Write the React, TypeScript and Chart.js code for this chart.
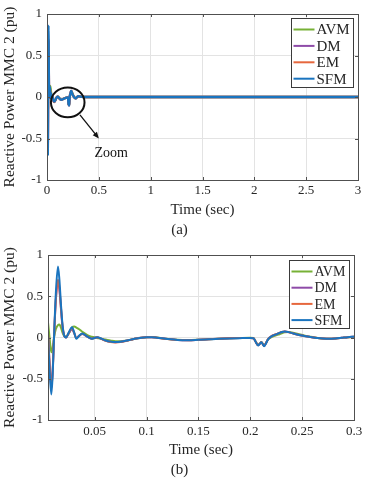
import React, { useEffect, useRef } from "react";
import { Chart, registerables } from "chart.js";

Chart.register(...registerables);

const FONT = "'Liberation Serif', 'Times New Roman', serif";
const TEXT = "#262626";
const BORDER = "#505050";
const GRID = "#e3e3e3";

const SERIES_NAMES = ["AVM", "DM", "EM", "SFM"];
const SERIES_COLORS = ["#77b136", "#8e4ba8", "#e6673d", "#1a74bf"];

const Y_TICKS = [-1, -0.5, 0, 0.5, 1];
const X_TICKS_A = [0, 0.5, 1, 1.5, 2, 2.5, 3];
const X_TICKS_B = [0.05, 0.1, 0.15, 0.2, 0.25, 0.3];

// time (sec)
const TIME = [
  0.005, 0.0065, 0.0082, 0.0095, 0.0108, 0.0125, 0.0146, 0.016, 0.0175, 0.019,
  0.0205, 0.0224, 0.025, 0.0281, 0.0303, 0.0323, 0.035, 0.038, 0.043, 0.047,
  0.0525, 0.056, 0.0606, 0.065, 0.07, 0.075, 0.08, 0.085, 0.09, 0.095,
  0.1, 0.105, 0.11, 0.12, 0.13, 0.14, 0.15, 0.16, 0.17, 0.18,
  0.19, 0.2, 0.203, 0.2055, 0.2075, 0.209, 0.2108, 0.212, 0.2133, 0.215,
  0.217, 0.22, 0.2235, 0.227, 0.2305, 0.2333, 0.237, 0.241, 0.246, 0.252,
  0.258, 0.264, 0.27, 0.276, 0.282, 0.288, 0.294, 0.3,
];

const AVM = [
  0.185, 0.0, -0.18, -0.12, 0.0, 0.1, 0.15, 0.157, 0.12, 0.06,
  0.02, 0.01, 0.05, 0.12, 0.133, 0.12, 0.1, 0.07, 0.028, 0.01,
  -0.005, -0.015, -0.025, -0.035, -0.045, -0.045, -0.038, -0.025, -0.012, -0.002,
  0.004, 0.006, 0.0, -0.016, -0.028, -0.031, -0.027, -0.02, -0.014, -0.009,
  -0.006, -0.004, -0.006, -0.055, -0.09, -0.076, -0.055, -0.076, -0.098, -0.07,
  -0.025, 0.0, 0.02, 0.035, 0.052, 0.062, 0.066, 0.058, 0.042, 0.024,
  0.008, -0.003, -0.012, -0.015, -0.012, -0.005, 0.003, 0.008,
];

const DM = [
  0.06, -0.3, -0.6, -0.4, 0.0, 0.44, 0.68, 0.58, 0.35, 0.13,
  0.025, 0.0, 0.05, 0.1, 0.05, -0.01, 0.02, 0.042, 0.01, -0.012,
  0.002, -0.014, -0.038, -0.052, -0.057, -0.052, -0.04, -0.026, -0.012, -0.003,
  0.004, 0.004, -0.002, -0.017, -0.029, -0.032, -0.027, -0.021, -0.015, -0.01,
  -0.007, -0.005, -0.008, -0.058, -0.095, -0.079, -0.057, -0.079, -0.102, -0.073,
  -0.023, 0.011, 0.033, 0.049, 0.066, 0.072, 0.065, 0.05, 0.033, 0.018,
  0.005, -0.005, -0.013, -0.015, -0.011, -0.004, 0.004, 0.01,
];

const EM = [
  0.04, -0.32, -0.62, -0.42, 0.0, 0.45, 0.7, 0.6, 0.36, 0.14,
  0.03, 0.0, 0.055, 0.11, 0.055, -0.01, 0.02, 0.045, 0.01, -0.015,
  0.002, -0.015, -0.04, -0.055, -0.06, -0.055, -0.042, -0.027, -0.013, -0.004,
  0.002, 0.003, -0.003, -0.019, -0.031, -0.033, -0.028, -0.021, -0.015, -0.01,
  -0.007, -0.005, -0.008, -0.058, -0.094, -0.078, -0.057, -0.078, -0.1, -0.072,
  -0.022, 0.012, 0.034, 0.05, 0.067, 0.072, 0.064, 0.05, 0.034, 0.019,
  0.006, -0.004, -0.012, -0.015, -0.011, -0.004, 0.004, 0.009,
];

const SFM = [
  0.02, -0.38, -0.69, -0.45, 0.0, 0.52, 0.86, 0.7, 0.4, 0.15,
  0.03, 0.0, 0.06, 0.125, 0.06, -0.015, 0.02, 0.05, 0.01, -0.015,
  0.004, -0.012, -0.036, -0.05, -0.056, -0.052, -0.04, -0.026, -0.012, -0.003,
  0.003, 0.004, -0.002, -0.018, -0.03, -0.033, -0.028, -0.022, -0.016, -0.011,
  -0.008, -0.006, -0.008, -0.06, -0.097, -0.08, -0.058, -0.08, -0.105, -0.075,
  -0.025, 0.01, 0.032, 0.048, 0.066, 0.073, 0.065, 0.05, 0.033, 0.018,
  0.005, -0.005, -0.013, -0.016, -0.012, -0.004, 0.004, 0.01,
];

// steady-state tail used by the full 0-3 s view
const TAIL_TIME = [0.35, 3];
const TAIL_VALUE = [0, 0];

const SERIES_VALUES = [AVM, DM, EM, SFM];

// annotation of panel (a), in data units
const ZOOM_ELLIPSE = { x: 0.2, y: -0.065, rx: 0.162, ry: 0.18 };
const ZOOM_ARROW = { x1: 0.318, y1: -0.215, x2: 0.5, y2: -0.5 };
const ZOOM_LABEL = { text: "Zoom", x: 0.62, y: -0.675 };

const framePlugin = {
  id: "mmcFrame",
  afterDatasetsDraw(chart: any) {
    const { ctx, chartArea: a, scales } = chart;
    ctx.save();
    ctx.strokeStyle = BORDER;
    ctx.lineWidth = 1;
    ctx.beginPath();
    const tl = 3;
    scales.x.ticks.forEach((t: any) => {
      const px = Math.round(scales.x.getPixelForValue(t.value)) + 0.5;
      ctx.moveTo(px, a.bottom);
      ctx.lineTo(px, a.bottom - tl);
      ctx.moveTo(px, a.top);
      ctx.lineTo(px, a.top + tl);
    });
    scales.y.ticks.forEach((t: any) => {
      const py = Math.round(scales.y.getPixelForValue(t.value)) + 0.5;
      ctx.moveTo(a.left, py);
      ctx.lineTo(a.left + tl, py);
      ctx.moveTo(a.right, py);
      ctx.lineTo(a.right - tl, py);
    });
    ctx.stroke();
    ctx.strokeRect(
      Math.round(a.left) + 0.5,
      Math.round(a.top) + 0.5,
      Math.round(a.right - a.left),
      Math.round(a.bottom - a.top)
    );
    ctx.restore();
  },
};

const legendPlugin = {
  id: "mmcLegend",
  afterDraw(chart: any, _args: any, opts: any) {
    const { ctx, chartArea: a } = chart;
    const x0 = Math.round(a.right - opts.rightGap - opts.width) + 0.5;
    const y0 = Math.round(a.top + opts.topGap) + 0.5;
    ctx.save();
    ctx.fillStyle = "#ffffff";
    ctx.fillRect(x0, y0, opts.width, opts.height);
    ctx.strokeStyle = "#3a3a3a";
    ctx.lineWidth = 1;
    ctx.strokeRect(x0, y0, opts.width, opts.height);
    ctx.font = `${opts.fontSize}px ${FONT}`;
    ctx.textBaseline = "middle";
    ctx.textAlign = "left";
    SERIES_NAMES.forEach((name, i) => {
      const y = y0 + opts.rowStart + i * opts.rowStep;
      ctx.strokeStyle = SERIES_COLORS[i];
      ctx.lineWidth = 2;
      ctx.beginPath();
      ctx.moveTo(x0 + 2, y);
      ctx.lineTo(x0 + 2 + opts.lineLen, y);
      ctx.stroke();
      ctx.fillStyle = TEXT;
      ctx.fillText(name, x0 + opts.lineLen + 4, y + 1);
    });
    ctx.restore();
  },
};

const captionPlugin = {
  id: "mmcCaption",
  afterDraw(chart: any, _args: any, opts: any) {
    const { ctx } = chart;
    ctx.save();
    ctx.font = `${opts.fontSize}px ${FONT}`;
    ctx.fillStyle = TEXT;
    ctx.textAlign = "center";
    ctx.textBaseline = "middle";
    ctx.fillText(opts.text, chart.width / 2 + opts.dx, opts.y);
    ctx.restore();
  },
};

const zoomPlugin = {
  id: "mmcZoom",
  afterDatasetsDraw(chart: any) {
    const { ctx, scales } = chart;
    const xs = scales.x;
    const ys = scales.y;
    const cx = xs.getPixelForValue(ZOOM_ELLIPSE.x);
    const cy = ys.getPixelForValue(ZOOM_ELLIPSE.y);
    const rx = Math.abs(xs.getPixelForValue(ZOOM_ELLIPSE.x + ZOOM_ELLIPSE.rx) - cx);
    const ry = Math.abs(ys.getPixelForValue(ZOOM_ELLIPSE.y + ZOOM_ELLIPSE.ry) - cy);
    ctx.save();
    ctx.strokeStyle = "#111111";
    ctx.lineWidth = 2;
    ctx.beginPath();
    ctx.ellipse(cx, cy, rx, ry, 0, 0, Math.PI * 2);
    ctx.stroke();
    const x1 = xs.getPixelForValue(ZOOM_ARROW.x1);
    const y1 = ys.getPixelForValue(ZOOM_ARROW.y1);
    const x2 = xs.getPixelForValue(ZOOM_ARROW.x2);
    const y2 = ys.getPixelForValue(ZOOM_ARROW.y2);
    const ang = Math.atan2(y2 - y1, x2 - x1);
    const head = 7;
    ctx.lineWidth = 1.3;
    ctx.beginPath();
    ctx.moveTo(x1, y1);
    ctx.lineTo(x2 - Math.cos(ang) * head * 0.6, y2 - Math.sin(ang) * head * 0.6);
    ctx.stroke();
    ctx.fillStyle = "#111111";
    ctx.beginPath();
    ctx.moveTo(x2, y2);
    ctx.lineTo(x2 - head * Math.cos(ang - 0.4), y2 - head * Math.sin(ang - 0.4));
    ctx.lineTo(x2 - head * Math.cos(ang + 0.4), y2 - head * Math.sin(ang + 0.4));
    ctx.closePath();
    ctx.fill();
    ctx.font = `14px ${FONT}`;
    ctx.textAlign = "center";
    ctx.textBaseline = "middle";
    ctx.fillText(
      ZOOM_LABEL.text,
      xs.getPixelForValue(ZOOM_LABEL.x),
      ys.getPixelForValue(ZOOM_LABEL.y)
    );
    ctx.restore();
  },
};

function makeConfig(panel: "a" | "b"): any {
  const full = panel === "a";
  const times = full ? TIME.concat(TAIL_TIME) : TIME;
  const datasets = SERIES_NAMES.map((name, i) => {
    const vals = full ? SERIES_VALUES[i].concat(TAIL_VALUE) : SERIES_VALUES[i];
    return {
      label: name,
      data: times.map((t, k) => ({ x: t, y: vals[k] })),
      borderColor: SERIES_COLORS[i],
      backgroundColor: SERIES_COLORS[i],
      borderWidth: full ? 2.3 : 2,
      pointRadius: 0,
      fill: false,
      cubicInterpolationMode: "monotone",
      order: SERIES_NAMES.length - i,
    };
  });
  const xTicks = full ? X_TICKS_A : X_TICKS_B;
  const plugins: any[] = [framePlugin, legendPlugin, captionPlugin];
  if (full) plugins.push(zoomPlugin);
  return {
    type: "line",
    data: { datasets },
    plugins,
    options: {
      animation: false,
      responsive: false,
      devicePixelRatio: 1,
      layout: {
        padding: full
          ? { top: 14, right: 7, left: 0, bottom: 0 }
          : { top: 15, right: 11, left: 0, bottom: 0 },
      },
      plugins: {
        legend: { display: false },
        tooltip: { enabled: false },
        mmcLegend: full
          ? { rightGap: 5, topGap: 4, width: 62, height: 69, rowStart: 11, rowStep: 16.4, lineLen: 21, fontSize: 15 }
          : { rightGap: 5, topGap: 5, width: 60, height: 68, rowStart: 11, rowStep: 16.2, lineLen: 21, fontSize: 14 },
        mmcCaption: { text: full ? "(a)" : "(b)", dx: -3, y: 230, fontSize: 15 },
      },
      scales: {
        x: {
          type: "linear",
          min: full ? 0 : 0.005,
          max: full ? 3 : 0.3,
          afterBuildTicks: (s: any) => {
            s.ticks = xTicks.map((v) => ({ value: v }));
          },
          afterFit: (s: any) => {
            s.height = 60;
            s.paddingLeft = 0;
            s.paddingRight = 0;
          },
          grid: { color: GRID, drawTicks: false, lineWidth: 1 },
          border: { display: false },
          ticks: {
            padding: full ? 3 : 4,
            color: TEXT,
            autoSkip: false,
            maxRotation: 0,
            font: { family: FONT, size: 13 },
            callback: (v: any) => String(v),
          },
          title: {
            display: true,
            text: "Time (sec)",
            color: TEXT,
            font: { family: FONT, size: 15 },
            padding: { top: 0, bottom: 21 },
          },
        },
        y: {
          type: "linear",
          min: -1,
          max: 1,
          afterBuildTicks: (s: any) => {
            s.ticks = Y_TICKS.map((v) => ({ value: v }));
          },
          afterFit: (s: any) => {
            s.width = full ? 47 : 48;
            s.paddingTop = 0;
            s.paddingBottom = 0;
          },
          grid: { color: GRID, drawTicks: false, lineWidth: 1 },
          border: { display: false },
          ticks: {
            padding: 5,
            color: TEXT,
            autoSkip: false,
            font: { family: FONT, size: 13 },
            callback: (v: any) => String(v),
          },
          title: {
            display: true,
            text: "Reactive Power MMC 2 (pu)",
            color: TEXT,
            font: { family: FONT, size: 15.5 },
            padding: { top: 1, bottom: 0 },
          },
        },
      },
    },
  };
}

function Panel({ panel }: { panel: "a" | "b" }) {
  const ref = useRef<HTMLCanvasElement>(null);
  useEffect(() => {
    const chart = new Chart(ref.current as HTMLCanvasElement, makeConfig(panel));
    return () => chart.destroy();
  }, [panel]);
  return (
    <canvas
      ref={ref}
      width={365}
      height={240}
      style={{ display: "block", width: 365, height: 240 }}
    />
  );
}

export default function App() {
  return (
    <div
      style={{
        position: "absolute",
        left: 0,
        top: 0,
        width: 365,
        height: 480,
        background: "#ffffff",
      }}
    >
      <Panel panel="a" />
      <Panel panel="b" />
    </div>
  );
}
